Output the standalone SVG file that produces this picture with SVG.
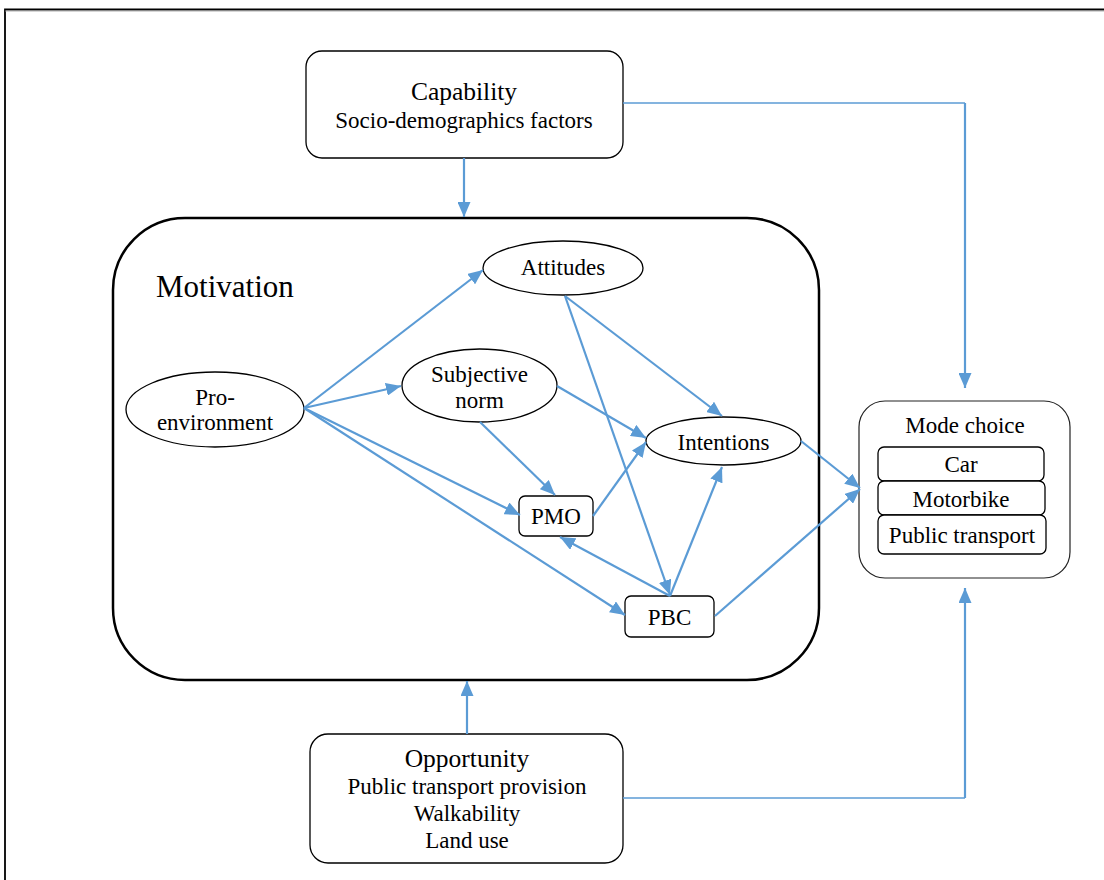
<svg xmlns="http://www.w3.org/2000/svg" width="1104" height="880" viewBox="0 0 1104 880">
  <style>
    text { font-family: 'Liberation Serif', 'DejaVu Serif', serif; fill: #000; text-anchor: middle; }
    .t { font-size: 23px; }
    .title { font-size: 25.5px; }
    .big { font-size: 31px; text-anchor: start; }
    .box { fill: #fff; stroke: #000; stroke-width: 1.3; }
    .frame { fill: none; stroke: #000; stroke-width: 2.5; }
    .link { fill: none; stroke: #5B9BD5; stroke-width: 2.2; }
    .thin { fill: none; stroke: #5B9BD5; stroke-width: 1.5; }
  </style>
  <defs>
    <marker id="arrow" markerUnits="userSpaceOnUse" markerWidth="15" markerHeight="13" refX="15" refY="6.5" orient="auto">
      <path d="M0,0 L15,6.5 L0,13 Z" fill="#5B9BD5"/>
    </marker>
  </defs>

  <rect width="1104" height="880" fill="#fff"/>
  <!-- page frame -->
  <path d="M5,880 V9.5 H1104" fill="none" stroke="#000" stroke-width="1.8"/>
  <line x1="5" y1="11" x2="1104" y2="11" stroke="#999" stroke-width="0.8"/>

  <g font-family="Liberation Serif, serif">
  <!-- motivation container -->
  <g id="motivation">
    <rect class="frame" x="113" y="218" width="706" height="462" rx="72" ry="72"/>
    <text class="big" x="156" y="297">Motivation</text>
  </g>

  <g id="capability">
    <rect class="box" x="306" y="51" width="317" height="107" rx="16"/>
    <text class="title" x="464" y="100">Capability</text>
    <text class="t" x="464" y="128">Socio-demographics factors</text>
  </g>

  <g id="opportunity">
    <rect class="box" x="310" y="734" width="313" height="129" rx="18"/>
    <text class="title" x="467" y="767">Opportunity</text>
    <text class="t" x="467" y="794">Public transport provision</text>
    <text class="t" x="467" y="821">Walkability</text>
    <text class="t" x="467" y="848">Land use</text>
  </g>

  <g id="mode-choice">
    <rect x="859" y="401" width="211" height="177" rx="26" fill="#fff" stroke="#222" stroke-width="1.2"/>
    <text class="t" x="965" y="433">Mode choice</text>
    <rect class="box" x="878" y="447" width="166" height="34" rx="6"/>
    <text class="t" x="961" y="472">Car</text>
    <rect class="box" x="878" y="481" width="167" height="34" rx="6"/>
    <text class="t" x="961" y="507">Motorbike</text>
    <rect class="box" x="878" y="515" width="168" height="39" rx="6"/>
    <text class="t" x="962" y="543">Public transport</text>
  </g>

  <g id="attitudes">
    <ellipse class="box" cx="563" cy="268" rx="80" ry="27"/>
    <text class="t" x="563" y="275">Attitudes</text>
  </g>

  <g id="subjective-norm">
    <ellipse class="box" cx="479.5" cy="385.5" rx="77.5" ry="36.5"/>
    <text class="t" x="479.5" y="382">Subjective</text>
    <text class="t" x="479.5" y="408">norm</text>
  </g>

  <g id="pro-environment">
    <ellipse class="box" cx="215" cy="409.5" rx="89" ry="37.5"/>
    <text class="t" x="215" y="405">Pro-</text>
    <text class="t" x="215" y="430">environment</text>
  </g>

  <g id="intentions">
    <ellipse class="box" cx="723.5" cy="441" rx="77.5" ry="24"/>
    <text class="t" x="723.5" y="450">Intentions</text>
  </g>

  <g id="pmo">
    <rect class="box" x="519" y="496" width="74" height="40" rx="6"/>
    <text class="t" x="556" y="524">PMO</text>
  </g>

  <g id="pbc">
    <rect class="box" x="625" y="596" width="89" height="41" rx="6"/>
    <text class="t" x="669.5" y="625">PBC</text>
  </g>
  </g>

  <g id="connectors">
    <!-- capability -->
    <line class="link" x1="464" y1="158" x2="464" y2="217" marker-end="url(#arrow)"/>
    <path class="thin" d="M623,103 H965"/>
    <line class="link" x1="965" y1="103" x2="965" y2="388" marker-end="url(#arrow)"/>
    <!-- opportunity -->
    <line class="link" x1="467" y1="734" x2="467" y2="681" marker-end="url(#arrow)"/>
    <path class="thin" d="M623,798 H965"/>
    <line class="link" x1="965" y1="798" x2="965" y2="588" marker-end="url(#arrow)"/>
    <!-- pro-environment -->
    <line class="link" x1="304" y1="408" x2="483" y2="270" marker-end="url(#arrow)"/>
    <line class="link" x1="304" y1="408" x2="401" y2="386" marker-end="url(#arrow)"/>
    <line class="link" x1="304" y1="408" x2="520" y2="515" marker-end="url(#arrow)"/>
    <line class="link" x1="304" y1="408" x2="625" y2="615" marker-end="url(#arrow)"/>
    <!-- subjective norm -->
    <line class="link" x1="557" y1="386" x2="646" y2="438" marker-end="url(#arrow)"/>
    <line class="link" x1="480" y1="422" x2="555" y2="495" marker-end="url(#arrow)"/>
    <!-- attitudes -->
    <line class="link" x1="565" y1="296" x2="722" y2="416" marker-end="url(#arrow)"/>
    <line class="link" x1="565" y1="296" x2="670" y2="595" marker-end="url(#arrow)"/>
    <!-- pmo -->
    <line class="link" x1="593" y1="516" x2="646" y2="442" marker-end="url(#arrow)"/>
    <!-- pbc -->
    <line class="link" x1="670" y1="596" x2="722" y2="467" marker-end="url(#arrow)"/>
    <line class="link" x1="670" y1="596" x2="560" y2="537" marker-end="url(#arrow)"/>
    <line class="link" x1="715" y1="616" x2="860" y2="489" marker-end="url(#arrow)"/>
    <!-- intentions -->
    <line class="link" x1="801" y1="441" x2="860" y2="488" marker-end="url(#arrow)"/>
  </g>
</svg>
